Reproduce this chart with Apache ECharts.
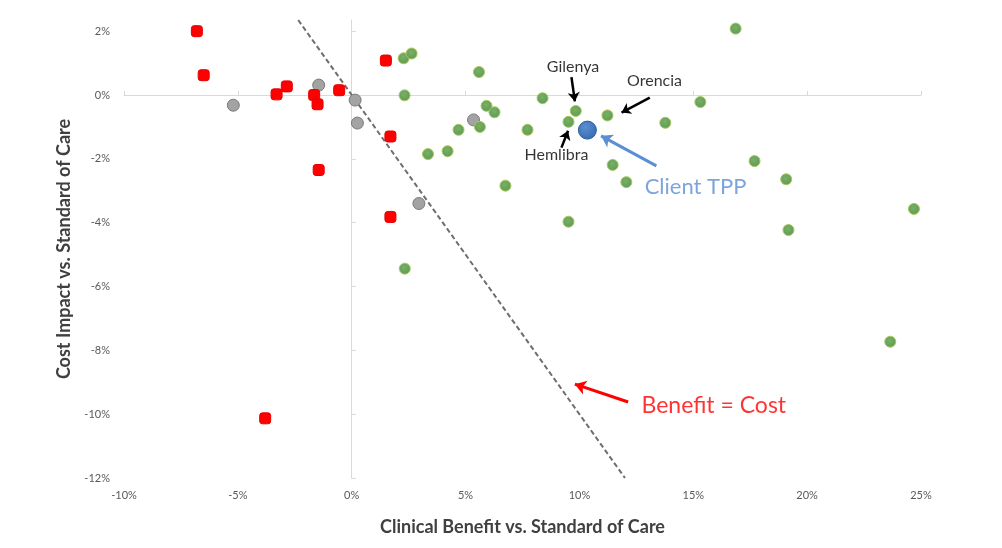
<!DOCTYPE html>
<html lang="en">
<head>
    <meta charset="UTF-8">
    <title>Benefit vs Cost</title>
    <script src="https://cdn.jsdelivr.net/npm/echarts@6/dist/echarts.min.js"></script>
</head>
<body style="margin:0;background:#fff;">
    <div id="main" style="width:1002px;height:548px;"></div>
    <script type="text/javascript">
        // data, % units (x = clinical benefit, y = cost impact)
        var redPts = [[-6.8, 2.0], [-6.5, 0.62], [-3.3, 0.02], [-2.85, 0.27], [-1.65, 0.0], [-1.5, -0.29],
            [-0.55, 0.15], [1.5, 1.08], [1.7, -1.3], [-1.45, -2.35], [1.7, -3.82], [-3.8, -10.13]];
        var greyPts = [[-5.2, -0.32], [-1.45, 0.31], [0.15, -0.16], [0.25, -0.88], [2.95, -3.4], [5.35, -0.78]];
        var greenPts = [[2.28, 1.15], [2.63, 1.3], [2.32, -0.01], [3.35, -1.85], [5.59, 0.72], [5.92, -0.34],
            [6.27, -0.54], [5.63, -1.0], [4.69, -1.09], [4.21, -1.76], [6.75, -2.84], [7.72, -1.09],
            [8.38, -0.1], [9.84, -0.5], [9.52, -0.84], [11.23, -0.64], [13.77, -0.87], [11.46, -2.19],
            [12.06, -2.73], [16.86, 2.08], [15.31, -0.22], [17.69, -2.07], [19.08, -2.64], [24.69, -3.57],
            [19.18, -4.23], [9.52, -3.97], [2.33, -5.44], [23.65, -7.73]];
        var clientTpp = [[10.35, -1.1]];
        var parityLine = [[-2.35, 2.35], [12, -12]];

        var yTicks = [-12, -10, -8, -6, -4, -2, 0, 2];

        // callouts
        var blackNotes = [
            { name: 'Gilenya', value: [9.72, 0.87] },
            { name: 'Orencia', value: [13.3, 0.44] },
            { name: 'Hemlibra', value: [8.99, -1.88] }
        ];
        var blackArrows = [
            [[9.65, 0.56], [9.8, -0.2]],
            [[13.09, -0.08], [11.85, -0.55]],
            [[9.21, -1.65], [9.5, -1.12]]
        ];
        var clientNote = [{ name: 'Client TPP', value: [15.1, -2.88] }];
        var clientArrow = [[[13.38, -2.22], [10.95, -1.28]]];
        var parityNote = [{ name: 'Benefit = Cost', value: [15.9, -9.72] }];
        var parityArrow = [[[12.14, -9.62], [9.8, -9.06]]];

        var font = 'Lato, "Open Sans", sans-serif';
        var pct = function (v) { return v + '%'; };

        function arrows(list, color, width, head) {
            return {
                type: 'lines',
                coordinateSystem: 'cartesian2d',
                symbol: ['none', 'arrow'],
                symbolSize: head,
                lineStyle: { color: color, width: width, opacity: 1 },
                data: list.map(function (a) { return { coords: a }; }),
                silent: true,
                z: 5
            };
        }
        function notes(list, color, size) {
            return {
                type: 'scatter',
                symbolSize: 0,
                data: list,
                label: {
                    show: true, position: 'inside', formatter: '{b}',
                    color: color, fontSize: size, fontFamily: font
                },
                silent: true,
                z: 6
            };
        }

        var myChart = echarts.init(document.getElementById('main'));

        var option = {
            animation: false,
            backgroundColor: '#ffffff',
            grid: { left: 124, right: 81, top: 20, bottom: 70 },
            xAxis: [
                {
                    type: 'value', min: -10, max: 25, interval: 5,
                    axisLine: { show: false, onZero: false },
                    axisTick: { show: false },
                    splitLine: { show: false },
                    axisLabel: { formatter: pct, margin: 12, color: '#595959', fontSize: 11, fontFamily: font },
                    name: 'Clinical Benefit vs. Standard of Care',
                    nameLocation: 'middle', nameGap: 40,
                    nameTextStyle: { fontSize: 18, fontWeight: 'bold', color: '#404040', fontFamily: font }
                },
                {
                    type: 'value', min: -10, max: 25, interval: 5,
                    axisLine: { show: true, onZero: true, onZeroAxisIndex: 1, lineStyle: { color: '#d9d9d9', width: 1 } },
                    axisTick: { show: true, length: 4, lineStyle: { color: '#d9d9d9' } },
                    axisLabel: { show: false },
                    splitLine: { show: false }
                }
            ],
            yAxis: [
                {
                    type: 'value', min: -12, max: 2.35, interval: 2,
                    axisLine: { show: false, onZero: false },
                    axisTick: { show: false },
                    splitLine: { show: false },
                    axisLabel: {
                        formatter: function (v) { return yTicks.indexOf(v) < 0 ? '' : v + '%'; },
                        margin: 14, color: '#595959', fontSize: 11, fontFamily: font
                    },
                    name: 'Cost Impact vs. Standard of Care',
                    nameLocation: 'middle', nameGap: 46,
                    nameTextStyle: { fontSize: 18, fontWeight: 'bold', color: '#404040', fontFamily: font }
                },
                {
                    type: 'value', min: -12, max: 2.35, interval: 2,
                    axisLine: { show: true, onZero: true, onZeroAxisIndex: 1, lineStyle: { color: '#d9d9d9', width: 1 } },
                    axisTick: { show: true, length: 4, lineStyle: { color: '#d9d9d9' }, customValues: yTicks },
                    axisLabel: { show: false },
                    splitLine: { show: false }
                }
            ],
            series: [
                {
                    type: 'line',
                    data: parityLine,
                    symbol: 'none',
                    lineStyle: { color: '#6e6e6e', width: 2, type: [5, 3] },
                    silent: true,
                    z: 1
                },
                {
                    type: 'scatter', data: greyPts, symbol: 'circle', symbolSize: 12,
                    itemStyle: { color: '#a3a3a3', borderColor: '#7a7a7a', borderWidth: 1, opacity: 1 },
                    z: 3
                },
                {
                    type: 'scatter', data: redPts, symbol: 'roundRect', symbolSize: 11,
                    itemStyle: { color: '#ff0000', borderColor: '#e60000', borderWidth: 1, opacity: 1 },
                    z: 3
                },
                {
                    type: 'scatter', data: greenPts, symbol: 'circle', symbolSize: 11,
                    itemStyle: {
                        color: new echarts.graphic.RadialGradient(0.45, 0.4, 0.7, [
                            { offset: 0, color: '#78b067' }, { offset: 1, color: '#5b9650' }
                        ]),
                        borderColor: '#a9c85a', borderWidth: 1, opacity: 1
                    },
                    z: 3
                },
                {
                    type: 'scatter', data: clientTpp, symbol: 'circle', symbolSize: 18,
                    itemStyle: {
                        color: new echarts.graphic.RadialGradient(0.4, 0.35, 0.75, [
                            { offset: 0, color: '#5a8fd0' }, { offset: 1, color: '#3367ad' }
                        ]),
                        borderColor: '#2f5d9c', borderWidth: 1, opacity: 1
                    },
                    z: 4
                },
                arrows(blackArrows, '#000000', 2.5, 9),
                arrows(clientArrow, '#5b8fd3', 3, 11),
                arrows(parityArrow, '#ff0000', 3, 11),
                notes(blackNotes, '#000000', 16),
                notes(clientNote, '#5b8fd3', 22),
                notes(parityNote, '#ff0000', 23)
            ]
        };

        myChart.setOption(option);
    </script>
</body>
</html>
